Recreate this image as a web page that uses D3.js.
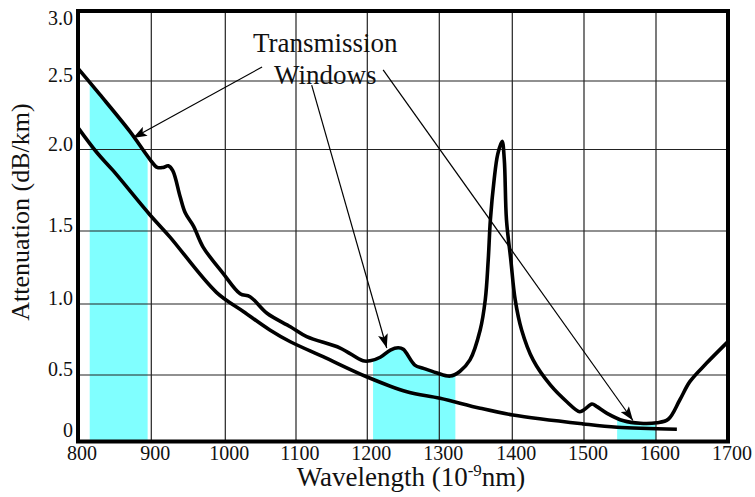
<!DOCTYPE html>
<html>
<head>
<meta charset="utf-8">
<script src="https://cdn.jsdelivr.net/npm/d3@7"></script>
<style>
  html, body { margin: 0; padding: 0; background: #fff; }
  svg { display: block; }
  text { font-family: "Liberation Serif", "DejaVu Serif", serif; fill: #111; }
</style>
</head>
<body>
<svg id="chart" width="755" height="497"></svg>
<script>
// ---------- data ----------
const wavelengthTicks = [800, 900, 1000, 1100, 1200, 1300, 1400, 1500, 1600, 1700];
const wavelengthLabels = ["800", "900", "1000", "1100", "1200", "1300", "1400", "1500", "1600", "1700"];
const attenuationTicks = [0, 0.5, 1.0, 1.5, 2.0, 2.5, 3.0];
const attenuationLabels = ["0", "0.5", "1.0", "1.5", "2.0", "2.5", "3.0"];

// total fibre attenuation (upper curve)
const totalWavelength = [800, 830, 871, 898, 908, 916, 923, 929, 939, 946, 957, 970, 997, 1021, 1035, 1059,
  1092, 1115, 1162, 1194, 1204, 1218, 1232, 1243, 1250, 1266, 1278, 1296, 1315, 1328, 1342, 1356,
  1363, 1367, 1370, 1375, 1380, 1386, 1389, 1392, 1398, 1404, 1413, 1429, 1453, 1476, 1494, 1501,
  1511, 1518, 1532, 1555, 1578, 1601, 1617, 1633, 1647, 1670, 1700];
const totalAttenuation = [2.59, 2.40, 2.13, 1.94, 1.89, 1.89, 1.90, 1.87, 1.71, 1.61, 1.53, 1.39, 1.21, 1.07, 1.05, 0.935,
  0.84, 0.77, 0.69, 0.60, 0.60, 0.625, 0.676, 0.692, 0.681, 0.57, 0.547, 0.516, 0.492, 0.525, 0.606, 0.817,
  1.03, 1.30, 1.57, 1.81, 1.97, 2.06, 1.94, 1.57, 1.30, 1.03, 0.817, 0.606, 0.425, 0.299, 0.224, 0.242,
  0.282, 0.262, 0.212, 0.156, 0.137, 0.141, 0.167, 0.312, 0.45, 0.582, 0.735];

// scattering loss (lower curve)
const scatterWavelength = [800, 826, 848, 898, 925, 988, 1026, 1063, 1092, 1138, 1199, 1255, 1301, 1356, 1401, 1499, 1546, 1629];
const scatterAttenuation = [2.16, 1.98, 1.87, 1.60, 1.46, 1.08, 0.946, 0.817, 0.734, 0.629, 0.487, 0.374, 0.325, 0.25, 0.199, 0.132, 0.107, 0.092];

// transmission windows (nm)
const windowStart = [816, 1208, 1546];
const windowEnd = [895, 1322, 1600];

// annotation
const titleLines = ["Transmission", "Windows"];
const titleWavelength = [1141, 1141];
const titleAttenuation = [2.707, 2.478];
const arrowFromWavelength = [1052, 1122, 1222];
const arrowFromAttenuation = [2.60, 2.47, 2.58];
const arrowToWavelength = [875, 1227, 1568];
const arrowToAttenuation = [2.084, 0.69, 0.158];

const xTitle = "Wavelength (10";
const xTitleSup = "-9";
const xTitleEnd = "nm)";
const yTitle = "Attenuation (dB/km)";

// ---------- scales (hand-drawn grid, piecewise) ----------
const x = d3.scaleLinear()
  .domain(wavelengthTicks)
  .range([78, 151.3, 225.3, 296, 367.3, 439.3, 512.3, 584, 656, 728]);
const y = d3.scaleLinear()
  .domain(attenuationTicks)
  .range([441.5, 375, 304, 231, 149.5, 81, 11]);

const svg = d3.select("#chart");
const xMin = x(800), xMax = x(1700), yMin = y(0), yMax = y(3.0);

// ---------- windows (fill under total curve) ----------
const defs = svg.append("defs");
windowStart.forEach((s, i) => {
  defs.append("clipPath").attr("id", "win" + i)
    .append("rect")
    .attr("x", x(s)).attr("width", x(windowEnd[i]) - x(s))
    .attr("y", yMax).attr("height", yMin - yMax);
});
const totalPts = totalWavelength.map((w, i) => [w, totalAttenuation[i]]);
const scatterPts = scatterWavelength.map((w, i) => [w, scatterAttenuation[i]]);
const curve = d3.curveCatmullRom.alpha(0.5);
const area = d3.area().x(d => x(d[0])).y0(y(0)).y1(d => y(d[1])).curve(curve);
windowStart.forEach((s, i) => {
  svg.append("path")
    .datum(totalPts)
    .attr("d", area)
    .attr("fill", "#80ffff")
    .attr("clip-path", `url(#win${i})`);
});

// ---------- grid ----------
const grid = svg.append("g").attr("stroke", "#222").attr("stroke-width", 1.2);
grid.selectAll("line.v").data(wavelengthTicks.slice(1, -1)).enter().append("line")
  .attr("x1", d => x(d)).attr("x2", d => x(d)).attr("y1", yMax).attr("y2", yMin);
grid.selectAll("line.h").data(attenuationTicks.slice(1, -1)).enter().append("line")
  .attr("x1", xMin).attr("x2", xMax).attr("y1", d => y(d)).attr("y2", d => y(d));

// ---------- tick labels ----------
svg.append("g").selectAll("text").data(wavelengthTicks).enter().append("text")
  .attr("x", d => x(d) + 4).attr("y", yMin + 18)
  .attr("text-anchor", "middle").attr("font-size", 20)
  .text((d, i) => wavelengthLabels[i]);
svg.append("g").selectAll("text").data(attenuationTicks).enter().append("text")
  .attr("x", xMin - 5).attr("y", d => Math.min(Math.max(y(d) + 1, yMax + 14), yMin - 4.5))
  .attr("text-anchor", "end").attr("font-size", 20)
  .text((d, i) => attenuationLabels[i]);

// ---------- curves ----------
const line = d3.line().x(d => x(d[0])).y(d => y(d[1])).curve(curve);
svg.append("path").datum(scatterPts).attr("d", line)
  .attr("fill", "none").attr("stroke", "#000").attr("stroke-width", 3.6).attr("stroke-linejoin", "round");
svg.append("path").datum(totalPts).attr("d", line)
  .attr("fill", "none").attr("stroke", "#000").attr("stroke-width", 3.6).attr("stroke-linejoin", "round");

// ---------- frame ----------
svg.append("rect")
  .attr("x", xMin).attr("y", yMax).attr("width", xMax - xMin).attr("height", yMin - yMax)
  .attr("fill", "none").attr("stroke", "#000").attr("stroke-width", 4);

// ---------- annotation ----------
defs.append("marker").attr("id", "arrow")
  .attr("viewBox", "0 0 14 10").attr("refX", 14).attr("refY", 5)
  .attr("markerWidth", 14).attr("markerHeight", 10)
  .attr("markerUnits", "userSpaceOnUse").attr("orient", "auto")
  .append("path").attr("d", "M0,0 L14,5 L0,10 L3,5 Z").attr("fill", "#000");
arrowFromWavelength.forEach((w, i) => {
  svg.append("line")
    .attr("x1", x(w)).attr("y1", y(arrowFromAttenuation[i]))
    .attr("x2", x(arrowToWavelength[i])).attr("y2", y(arrowToAttenuation[i]))
    .attr("stroke", "#000").attr("stroke-width", 1.2)
    .attr("marker-end", "url(#arrow)");
});
titleLines.forEach((t, i) => {
  svg.append("text")
    .attr("x", x(titleWavelength[i])).attr("y", y(titleAttenuation[i]))
    .attr("text-anchor", "middle").attr("font-size", 27)
    .text(t);
});

// ---------- axis titles ----------
const xt = svg.append("text")
  .attr("x", 411).attr("y", 486)
  .attr("text-anchor", "middle").attr("font-size", 27);
xt.append("tspan").text(xTitle);
xt.append("tspan").attr("font-size", 17).attr("dy", -10).text(xTitleSup);
xt.append("tspan").attr("dy", 10).text(xTitleEnd);

svg.append("text")
  .attr("transform", "translate(29,212) rotate(-90)")
  .attr("text-anchor", "middle").attr("font-size", 26)
  .text(yTitle);
</script>
</body>
</html>
